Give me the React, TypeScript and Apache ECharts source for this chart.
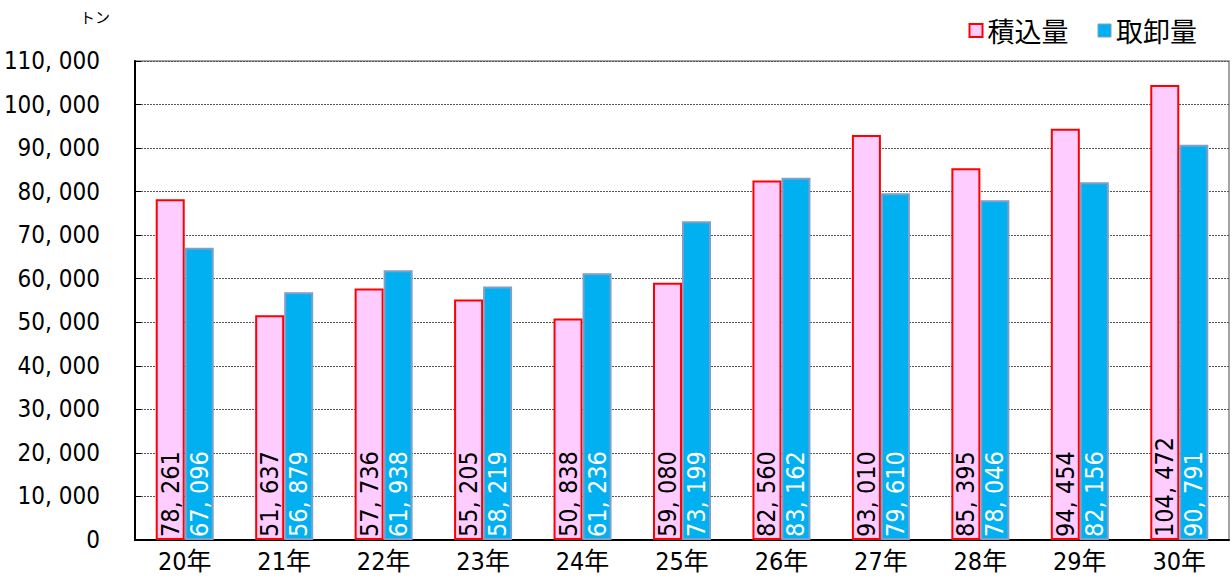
import React, { useEffect, useRef } from "react";
import * as echarts from "echarts";

const categories = ["20年", "21年", "22年", "23年", "24年", "25年", "26年", "27年", "28年", "29年", "30年"];
const loaded = [78261, 51637, 57736, 55205, 50838, 59080, 82560, 93010, 85395, 94454, 104472];
const unloaded = [67096, 56879, 61938, 58219, 61236, 73199, 83162, 79610, 78046, 82156, 90791];
const seriesNames = ["積込量", "取卸量"];
const unitLabel = "トン";

const fmt = (v: number) => {
  const s = String(Math.round(v));
  return s.replace(/\B(?=(\d{3})+(?!\d))/g, ", ");
};

const FONT = "'Noto Sans CJK JP', 'Noto Sans', sans-serif";
const NARROW = "'Liberation Sans Narrow', 'DejaVu Sans Condensed', 'Noto Sans CJK JP', sans-serif";

export default function App() {
  const ref = useRef<HTMLDivElement>(null);
  useEffect(() => {
    if (!ref.current) return;
    const chart = echarts.init(ref.current, null, { renderer: "svg" });
    chart.setOption({
      animation: false,
      backgroundColor: "#ffffff",
      textStyle: { fontFamily: FONT },
      grid: {
        left: 135, right: 3, top: 61, bottom: 42,
        containLabel: false, outerBoundsMode: "none",
        show: true, borderColor: "#888888", borderWidth: 1.5,
      },
      legend: {
        right: 30,
        top: 12,
        icon: "rect",
        itemWidth: 13,
        itemHeight: 13,
        itemGap: 29,
        textStyle: { fontSize: 27, color: "#000", fontFamily: FONT },
        data: [
          { name: seriesNames[0], itemStyle: { color: "#FFCCFF", borderColor: "#FF0000", borderWidth: 2 } },
          { name: seriesNames[1], itemStyle: { color: "#00B0F0", borderColor: "#7F9FC9", borderWidth: 1 } },
        ],
      },
      graphic: [
        { type: "text", left: 80, top: 9, style: { text: unitLabel, fontSize: 15, fill: "#000", fontFamily: FONT } },
      ],
      xAxis: {
        type: "category",
        data: categories,
        axisLine: { lineStyle: { color: "#000", width: 2 } },
        axisTick: { inside: true, length: 10, lineStyle: { color: "#000", width: 2 } },
        axisLabel: { fontSize: 25, color: "#000", margin: 9, fontFamily: NARROW },
      },
      yAxis: {
        type: "value",
        min: 0,
        max: 110000,
        interval: 10000,
        axisLine: { show: true, lineStyle: { color: "#000", width: 2 } },
        axisTick: { show: true, inside: true, length: 6, lineStyle: { color: "#000" } },
        splitLine: { lineStyle: { color: "#555", type: [2, 1], width: 1 } },
        axisLabel: { fontSize: 24, color: "#000", margin: 35, formatter: (v: number) => fmt(v), fontFamily: NARROW },
      },
      series: [
        {
          name: seriesNames[0],
          type: "bar",
          data: loaded,
          barWidth: 29,
          barGap: "0%",
          itemStyle: { color: "#FFCCFF", borderColor: "#FF0000", borderWidth: 2 },
          label: {
            show: true,
            position: "insideBottom",
            rotate: 90,
            align: "left",
            verticalAlign: "middle",
            distance: 3,
            fontSize: 25,
            color: "#000",
            fontFamily: NARROW,
            formatter: (p: any) => fmt(p.value),
          },
        },
        {
          name: seriesNames[1],
          type: "bar",
          data: unloaded,
          barWidth: 29,
          barGap: "0%",
          itemStyle: { color: "#00B0F0", borderColor: "#7F9FC9", borderWidth: 2 },
          label: {
            show: true,
            position: "insideBottom",
            rotate: 90,
            align: "left",
            verticalAlign: "middle",
            distance: 3,
            fontSize: 25,
            color: "#fff",
            fontFamily: NARROW,
            formatter: (p: any) => fmt(p.value),
          },
        },
      ],
    });
    return () => chart.dispose();
  }, []);
  return <div ref={ref} style={{ width: 1232, height: 582, position: "absolute", left: 0, top: 0 }} />;
}
